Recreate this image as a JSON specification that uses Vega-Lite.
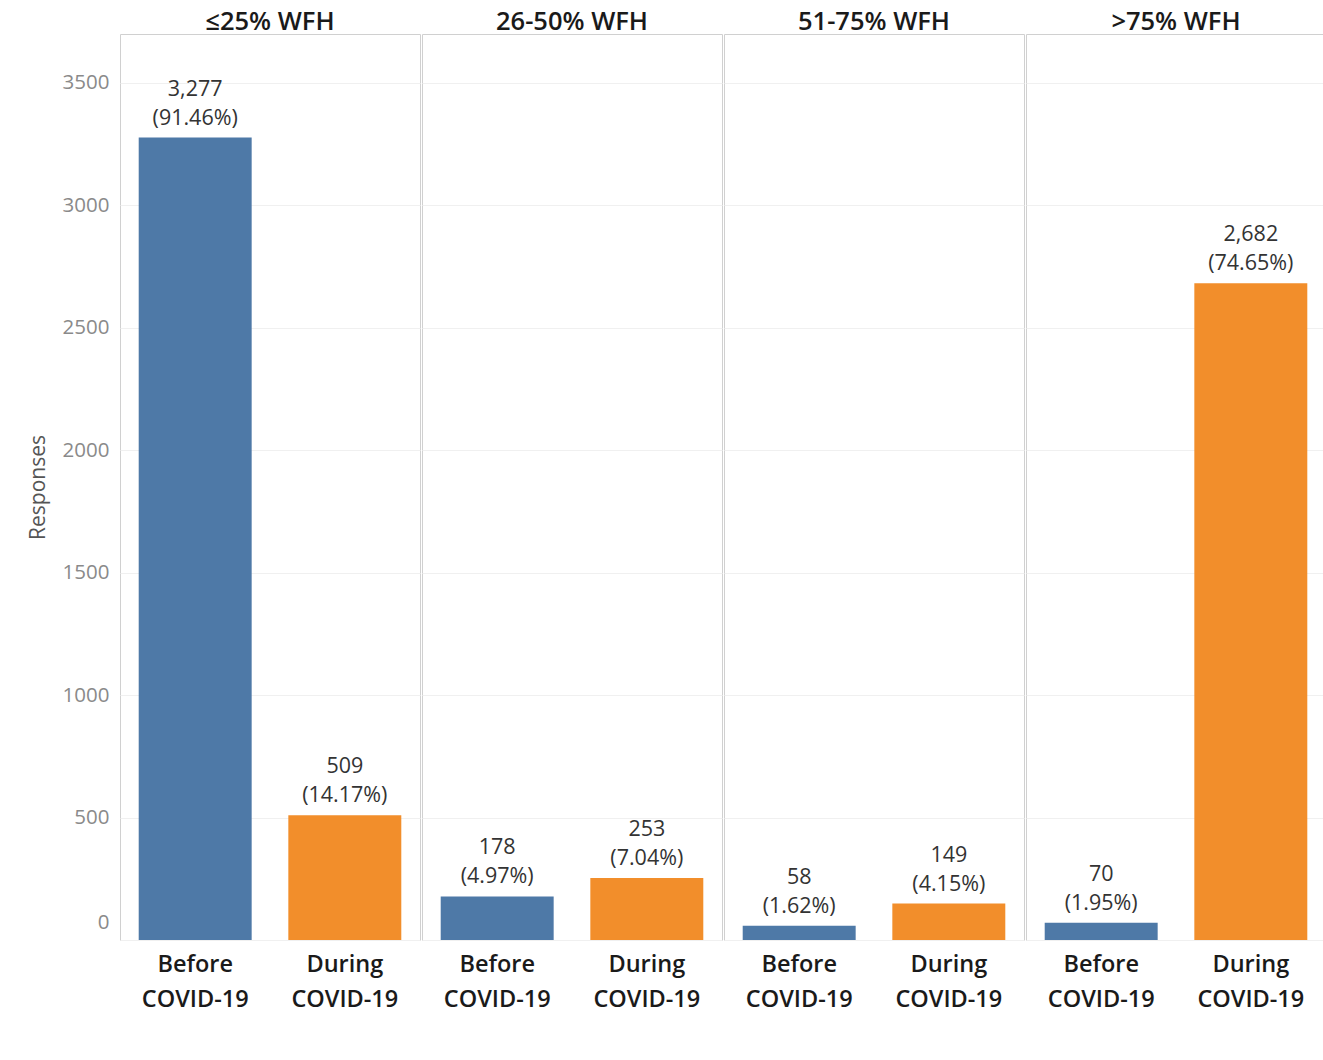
{
  "$schema": "https://vega.github.io/schema/vega-lite/v6.json",
  "padding": {"left": 27, "top": 9, "right": 0, "bottom": 60},
  "background": "white",
  "data": {
    "values": [
      {"group": "≤25% WFH", "period": "Before COVID-19", "responses": 3277, "pct_label": "(91.46%)"},
      {"group": "≤25% WFH", "period": "During COVID-19", "responses": 509, "pct_label": "(14.17%)"},
      {"group": "26-50% WFH", "period": "Before COVID-19", "responses": 178, "pct_label": "(4.97%)"},
      {"group": "26-50% WFH", "period": "During COVID-19", "responses": 253, "pct_label": "(7.04%)"},
      {"group": "51-75% WFH", "period": "Before COVID-19", "responses": 58, "pct_label": "(1.62%)"},
      {"group": "51-75% WFH", "period": "During COVID-19", "responses": 149, "pct_label": "(4.15%)"},
      {"group": ">75% WFH", "period": "Before COVID-19", "responses": 70, "pct_label": "(1.95%)"},
      {"group": ">75% WFH", "period": "During COVID-19", "responses": 2682, "pct_label": "(74.65%)"}
    ]
  },
  "facet": {
    "column": {
      "field": "group",
      "type": "nominal",
      "sort": ["≤25% WFH", "26-50% WFH", "51-75% WFH", ">75% WFH"],
      "header": {
        "title": null,
        "labelOrient": "top",
        "labelFontSize": 25.5,
        "labelFont": "Open Sans",
        "labelFontWeight": 600,
        "labelColor": "#1a1a1a",
        "labelPadding": -2
      }
    }
  },
  "spacing": 0,
  "spec": {
    "width": 300,
    "height": 906,
    "encoding": {
      "x": {
        "field": "period",
        "type": "nominal",
        "sort": ["Before COVID-19", "During COVID-19"],
        "scale": {"paddingInner": 0.245, "paddingOuter": 0.125},
        "axis": {
          "title": null,
          "labelAngle": 0,
          "ticks": false,
          "domain": false,
          "labelExpr": "split(datum.label, ' ')",
          "labelFont": "Open Sans",
          "labelFontSize": 23.5,
          "labelFontWeight": 600,
          "labelColor": "#1a1a1a",
          "labelLineHeight": 35,
          "labelPadding": 11
        }
      },
      "y": {
        "field": "responses",
        "type": "quantitative",
        "scale": {"domain": [0, 3700], "nice": false},
        "axis": {
          "title": "Responses",
          "titleFont": "Open Sans",
          "titleFontSize": 21,
          "titleFontWeight": "normal",
          "titleColor": "#555555",
          "titlePadding": 14,
          "labelFont": "Open Sans",
          "labelFontSize": 20.5,
          "labelColor": "#8a8a8a",
          "labelPadding": 10,
          "labelFlush": true,
          "labelFlushOffset": -8,
          "format": "d",
          "ticks": false,
          "domain": false,
          "grid": true,
          "gridColor": "#f0f0f0",
          "values": [0, 500, 1000, 1500, 2000, 2500, 3000, 3500]
        }
      }
    },
    "layer": [
      {
        "mark": {"type": "bar"},
        "encoding": {
          "color": {
            "field": "period",
            "type": "nominal",
            "scale": {"domain": ["Before COVID-19", "During COVID-19"], "range": ["#4e79a7", "#f28e2b"]},
            "legend": null
          }
        }
      },
      {
        "mark": {"type": "text", "baseline": "alphabetic", "dy": -42, "font": "Open Sans", "fontSize": 21.5, "color": "#333333"},
        "encoding": {"text": {"field": "responses", "type": "quantitative", "format": ","}}
      },
      {
        "mark": {"type": "text", "baseline": "alphabetic", "dy": -13, "font": "Open Sans", "fontSize": 21.5, "color": "#333333"},
        "encoding": {"text": {"field": "pct_label", "type": "nominal"}}
      }
    ]
  },
  "config": {
    "view": {"stroke": "#d0d0d0", "strokeWidth": 1}
  }
}
